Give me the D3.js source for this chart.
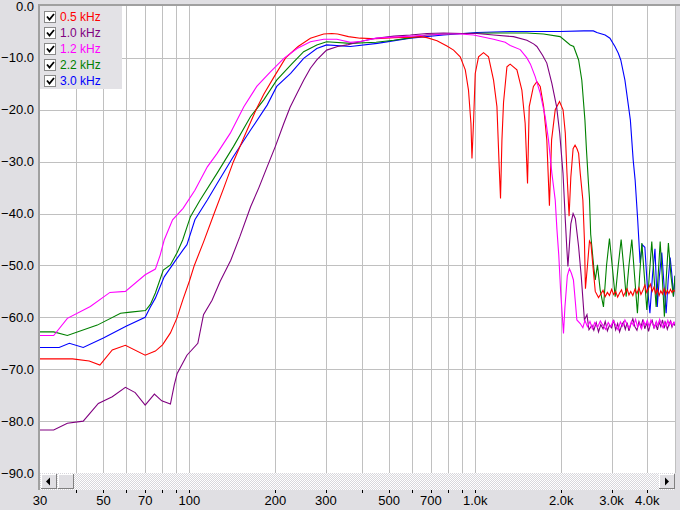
<!DOCTYPE html>
<html><head><meta charset="utf-8">
<script src="https://cdn.jsdelivr.net/npm/d3@7"></script>
<style>
html,body{margin:0;padding:0;background:#e0dfe3;overflow:hidden}
svg{display:block}
text{font-family:Arial,"Liberation Sans",sans-serif}
</style></head><body>
<svg id="c" width="680" height="510"></svg>
<script>
// ---------- data ----------
const seriesNames = ["0.5 kHz", "1.0 kHz", "1.2 kHz", "2.2 kHz", "3.0 kHz"];
const seriesColors = ["#ff0000", "#800080", "#ff00ff", "#008000", "#0000ff"];

const yTickValues = [0, -10, -20, -30, -40, -50, -60, -70, -80, -90];
const xGridValues = [30,40,50,60,70,80,90,100,200,300,400,500,600,700,800,900,1000,2000,3000,4000,5000];
const xTickLabelValues = [30, 50, 70, 100, 200, 300, 500, 700, 1000, 2000, 3000, 4000];
const xTickLabelTexts = ["30","50","70","100","200","300","500","700","1.0k","2.0k","3.0k","4.0k"];

const red05 = [[30,-68.0],[39,-68.0],[44.6,-68.4],[48.6,-69.2],[53.7,-66.3],[59.7,-65.4],[70,-67.3],[76,-66.5],[80.5,-65.3],[85.8,-63.0],[90.3,-60.2],[95,-56.5],[100,-53.0],[104,-50.0],[112,-45.5],[122,-40.0],[132,-35.0],[142.5,-30.0],[156,-25.0],[171,-20.0],[182,-17.0],[197,-13.8],[217,-10.0],[240,-7.8],[265,-6.2],[295,-5.4],[315,-5.3],[330,-5.4],[360,-5.9],[396,-6.2],[450,-6.3],[520,-6.1],[600,-6.0],[642,-5.9],[678,-6.1],[735,-6.7],[796,-7.7],[840,-8.5],[886,-9.8],[923,-12.3],[947,-16.2],[966,-22.6],[974,-29.4],[987,-22.0],[1000,-13.0],[1027,-9.8],[1069,-9.0],[1113,-9.8],[1159,-14.3],[1191,-19.4],[1213,-31.0],[1226,-37.1],[1240,-25.8],[1256,-18.6],[1291,-11.7],[1325,-11.2],[1399,-12.3],[1456,-16.2],[1495,-22.6],[1524,-34.2],[1545,-19.4],[1598,-15.5],[1643,-14.6],[1688,-15.5],[1735,-19.4],[1780,-25.8],[1818,-38.5],[1850,-25.8],[1905,-20.0],[1972,-18.4],[2029,-20.0],[2066,-24.5],[2094,-32.2],[2130,-40.5],[2160,-33.0],[2200,-27.5],[2235,-26.8],[2270,-27.5],[2300,-28.4],[2330,-32.2],[2380,-37.4],[2410,-45.0],[2430,-54.5],[2470,-50.0],[2510,-45.3],[2540,-45.8],[2580,-50.0],[2630,-55.0],[2700,-56.2],[2750,-55.5],[2800,-54.8],[2850,-56.0],[2900,-55.2],[2950,-55.8],[3000,-54.6],[3050,-55.6],[3100,-55.0],[3150,-56.1],[3200,-55.3],[3250,-54.7],[3300,-55.9],[3350,-55.2],[3400,-54.5],[3450,-55.7],[3500,-55.0],[3560,-55.8],[3620,-54.6],[3680,-55.4],[3740,-54.3],[3800,-55.6],[3860,-54.8],[3920,-53.8],[3980,-55.2],[4040,-54.4],[4100,-53.6],[4160,-55.0],[4220,-54.2],[4280,-55.4],[4340,-54.6],[4400,-55.8],[4460,-54.9],[4520,-55.5],[4580,-54.5],[4640,-55.6],[4700,-54.8],[4760,-55.4],[4820,-54.6],[4880,-55.2],[4940,-54.8],[5000,-55.0]];

const purple10 = [[30,-81.7],[33.5,-81.7],[37.4,-80.4],[42.5,-80.0],[48,-76.6],[53.7,-75.3],[59.7,-73.5],[64.6,-74.5],[70,-76.9],[75.4,-74.8],[80,-76.1],[85.8,-76.7],[88.5,-73.0],[90.6,-70.8],[98,-67.3],[107,-65.0],[112,-59.5],[120,-56.7],[128,-53.1],[139.5,-49.0],[150,-44.5],[163.7,-38.7],[175,-35.0],[187,-31.0],[200,-27.0],[214,-22.6],[225,-19.5],[238,-16.8],[251,-14.3],[265,-12.0],[279,-10.4],[302,-8.5],[330,-7.8],[356,-7.5],[400,-6.8],[450,-6.2],[520,-5.8],[593,-5.6],[678,-5.3],[775,-5.2],[900,-5.3],[1013,-5.3],[1159,-5.6],[1361,-5.9],[1516,-6.6],[1600,-7.3],[1643,-7.8],[1720,-9.5],[1780,-11.0],[1854,-14.9],[1926,-19.4],[1975,-24.5],[2028,-32.2],[2066,-41.2],[2090,-46.4],[2110,-50.2],[2130,-47.0],[2160,-42.0],[2200,-40.0],[2240,-41.0],[2300,-46.4],[2350,-52.2],[2410,-60.5],[2460,-59.5],[2500,-62.4],[2560,-61.5],[2600,-62.5],[2650,-61.0],[2700,-62.8],[2750,-61.4],[2800,-62.2],[2850,-60.8],[2900,-62.6],[2950,-61.5],[3000,-62.0],[3050,-60.5],[3100,-62.4],[3150,-61.2],[3200,-62.8],[3250,-61.6],[3300,-60.9],[3350,-62.3],[3400,-61.0],[3450,-62.6],[3500,-61.4],[3560,-60.3],[3620,-61.8],[3680,-62.5],[3740,-60.8],[3800,-61.9],[3860,-60.4],[3920,-62.2],[3980,-61.0],[4040,-62.7],[4100,-61.3],[4160,-60.6],[4220,-62.0],[4280,-61.2],[4340,-62.4],[4400,-60.9],[4460,-61.8],[4520,-60.5],[4580,-62.1],[4640,-61.0],[4700,-62.3],[4760,-61.4],[4820,-60.7],[4880,-61.9],[4940,-61.1],[5000,-61.6]];

const magenta12 = [[30,-63.5],[33.5,-63.5],[37.4,-60.2],[45,-57.9],[52.7,-55.2],[59.7,-55.0],[70,-51.8],[76,-50.7],[79,-48.0],[81.6,-45.1],[87.3,-41.2],[95,-39.0],[104.5,-35.5],[115.5,-31.0],[125,-28.4],[139,-24.5],[155,-19.4],[172,-15.5],[192,-12.7],[214,-10.1],[238,-8.2],[265,-6.9],[295,-6.4],[328,-6.4],[366,-7.0],[400,-6.8],[450,-6.2],[518,-6.0],[600,-5.8],[678,-5.6],[800,-5.4],[886,-5.4],[987,-5.6],[1159,-6.4],[1273,-7.0],[1326,-7.6],[1437,-8.4],[1516,-10.0],[1560,-11.2],[1621,-13.6],[1688,-16.8],[1757,-21.3],[1804,-25.8],[1854,-32.2],[1905,-37.4],[1931,-43.0],[1960,-48.0],[1990,-55.0],[2036,-63.1],[2060,-58.0],[2100,-52.0],[2135,-50.6],[2170,-51.5],[2206,-52.8],[2240,-57.0],[2268,-60.5],[2330,-61.2],[2380,-62.0],[2420,-60.6],[2470,-61.8],[2520,-60.8],[2570,-62.2],[2620,-61.0],[2680,-61.9],[2740,-60.7],[2800,-61.6],[2860,-62.3],[2920,-61.0],[2980,-61.8],[3040,-60.6],[3100,-61.5],[3160,-62.4],[3220,-60.9],[3280,-61.7],[3340,-60.5],[3400,-61.4],[3460,-62.1],[3520,-60.8],[3580,-61.6],[3640,-60.4],[3700,-61.9],[3760,-61.1],[3820,-62.2],[3880,-60.7],[3940,-61.5],[4000,-60.6],[4060,-61.8],[4120,-60.5],[4180,-61.4],[4240,-62.0],[4300,-60.8],[4360,-61.6],[4420,-60.4],[4480,-61.3],[4540,-62.0],[4600,-60.9],[4660,-61.7],[4720,-60.6],[4780,-61.5],[4840,-60.8],[4900,-61.6],[4960,-60.9],[5000,-61.3]];

const green22 = [[30,-62.8],[33.5,-62.8],[37.4,-63.5],[47.6,-61.5],[57.4,-59.2],[62.2,-59.0],[70.2,-58.7],[73,-57.5],[76,-55.3],[81,-50.9],[85.8,-49.9],[90.6,-47.5],[94.7,-45.1],[100.8,-40.6],[109,-37.4],[125,-32.2],[142.5,-27.1],[163.7,-21.3],[182,-18.1],[202,-14.3],[226,-11.4],[251,-8.8],[279,-7.5],[302,-6.9],[366,-7.2],[450,-7.0],[518,-6.6],[600,-6.1],[678,-5.6],[800,-5.4],[886,-5.3],[1159,-5.2],[1516,-5.2],[1734,-5.4],[1982,-5.9],[2150,-7.5],[2210,-7.8],[2300,-10.4],[2360,-14.3],[2420,-22.0],[2450,-27.7],[2490,-34.2],[2510,-37.0],[2535,-44.0],[2559,-46.4],[2600,-50.5],[2630,-52.8],[2677,-49.9],[2736,-54.7],[2810,-58.0],[2880,-50.0],[2949,-44.8],[3020,-50.5],[3088,-56.0],[3165,-50.0],[3240,-45.0],[3310,-50.5],[3373,-56.0],[3450,-50.0],[3531,-45.0],[3610,-52.0],[3694,-59.2],[3760,-52.0],[3828,-45.7],[3905,-52.0],[3985,-58.6],[4065,-52.0],[4147,-45.4],[4220,-52.0],[4295,-58.0],[4365,-52.0],[4437,-45.4],[4510,-52.0],[4590,-59.9],[4665,-52.0],[4741,-45.7],[4840,-52.0],[4937,-56.0],[5000,-52.0]];

const blue30 = [[30,-65.8],[35,-65.8],[38,-65.0],[42.5,-65.8],[50,-64.0],[60,-61.7],[70,-60.0],[73,-58.0],[76,-56.3],[81.6,-52.2],[90.6,-48.6],[95,-47.0],[98,-46.0],[104.5,-41.2],[115.5,-37.4],[125,-34.2],[142.5,-29.0],[163.7,-23.9],[187,-19.1],[202,-15.5],[226,-13.0],[251,-10.1],[279,-8.2],[302,-7.5],[366,-7.8],[454,-7.2],[593,-6.2],[775,-5.6],[1013,-5.1],[1326,-4.9],[1982,-4.9],[2400,-4.8],[2590,-4.8],[2664,-5.1],[2848,-5.6],[2960,-6.2],[3082,-7.8],[3167,-9.1],[3230,-10.4],[3340,-14.3],[3490,-22.0],[3570,-29.7],[3626,-33.5],[3700,-41.0],[3775,-49.5],[3840,-46.0],[3922,-46.5],[4000,-54.0],[4085,-59.2],[4170,-52.0],[4255,-46.8],[4300,-53.0],[4335,-58.0],[4410,-52.0],[4495,-47.5],[4580,-54.0],[4655,-59.2],[4730,-53.0],[4810,-48.5],[4880,-52.0],[4940,-56.0],[5000,-52.0]];

const seriesData = [red05, purple10, magenta12, green22, blue30];

// ---------- layout ----------
const svg = d3.select("#c");
const L = 40, R = 675, T = 6, B = 473;
const x = d3.scaleLog().domain([30, 5000]).range([L, R]);
const y = d3.scaleLinear().domain([-90, 0]).range([B, T]);

// scrollbar checker pattern
const defs = svg.append("defs");
const pat = defs.append("pattern").attr("id","chk").attr("width",2).attr("height",2).attr("patternUnits","userSpaceOnUse");
pat.append("rect").attr("width",2).attr("height",2).attr("fill","#ffffff");
pat.append("rect").attr("x",1).attr("y",0).attr("width",1).attr("height",1).attr("fill","#d8d7dc");
pat.append("rect").attr("x",0).attr("y",1).attr("width",1).attr("height",1).attr("fill","#d8d7dc");
defs.append("clipPath").attr("id","plotclip").append("rect").attr("x",L).attr("y",T).attr("width",R-L).attr("height",B-T);

// plot background
svg.append("rect").attr("x",L).attr("y",T).attr("width",R-L).attr("height",B-T).attr("fill","#ffffff");

// grid
const grid = svg.append("g").attr("shape-rendering","crispEdges");
grid.selectAll("line.gx").data(xGridValues.filter(v=>v>30)).join("line")
  .attr("x1",d=>Math.round(x(d))+0.5).attr("x2",d=>Math.round(x(d))+0.5)
  .attr("y1",T).attr("y2",B).attr("stroke","#c0c0c0").attr("stroke-width",1);
grid.selectAll("line.gy").data(yTickValues.filter(v=>v<0 && v>-90)).join("line")
  .attr("x1",L).attr("x2",R)
  .attr("y1",d=>Math.round(y(d))+0.5).attr("y2",d=>Math.round(y(d))+0.5)
  .attr("stroke","#c0c0c0").attr("stroke-width",1);

// series
const line = d3.line().x(d=>x(d[0])).y(d=>y(d[1])).curve(d3.curveLinear);
const lines = svg.append("g").attr("clip-path","url(#plotclip)");
const drawOrder = [4,3,0,1,2];
drawOrder.forEach(i=>{
  lines.append("path").datum(seriesData[i]).attr("d",line)
    .attr("fill","none").attr("stroke",seriesColors[i]).attr("stroke-width",1.1)
    .attr("stroke-linejoin","miter");
});

// frame (sunken border)
svg.append("rect").attr("x",38).attr("y",4).attr("width",680-38).attr("height",2).attr("fill","#a0a0a0");
svg.append("rect").attr("x",38).attr("y",4).attr("width",2).attr("height",490-4).attr("fill","#a0a0a0");

// y axis labels
svg.append("g").selectAll("text").data(yTickValues).join("text")
  .attr("x",34).attr("y",d=>y(d)+4.5).attr("text-anchor","end")
  .attr("font-size",13).attr("fill","#000")
  .text(d=>d3.format(".1f")(d));

// scrollbar
const sb = svg.append("g").attr("shape-rendering","crispEdges");
sb.append("rect").attr("x",L).attr("y",B).attr("width",R-L).attr("height",17).attr("fill","url(#chk)");
function button(x0, w){
  const g = sb.append("g");
  g.append("rect").attr("x",x0).attr("y",B+1).attr("width",w).attr("height",15).attr("fill","#e0dfe3");
  g.append("line").attr("x1",x0+0.5).attr("x2",x0+0.5).attr("y1",B+1).attr("y2",B+16).attr("stroke","#ffffff");
  g.append("line").attr("x1",x0).attr("x2",x0+w).attr("y1",B+1.5).attr("y2",B+1.5).attr("stroke","#ffffff");
  g.append("line").attr("x1",x0+w-0.5).attr("x2",x0+w-0.5).attr("y1",B+1).attr("y2",B+16).attr("stroke","#808080");
  g.append("line").attr("x1",x0).attr("x2",x0+w).attr("y1",B+15.5).attr("y2",B+15.5).attr("stroke","#808080");
  return g;
}
button(41,16);
button(58,16);
button(659,16);
svg.append("path").attr("d",`M46,${B+8.5} L50,${B+4.5} L50,${B+12.5} Z`).attr("fill","#000");
svg.append("path").attr("d",`M669,${B+8.5} L665,${B+4.5} L665,${B+12.5} Z`).attr("fill","#000");

// x ticks
svg.append("g").attr("shape-rendering","crispEdges").selectAll("line").data(xGridValues.filter(v=>v>30 && v<5000)).join("line")
  .attr("x1",d=>Math.round(x(d))+0.5).attr("x2",d=>Math.round(x(d))+0.5)
  .attr("y1",490).attr("y2",493).attr("stroke","#000");

// x labels
svg.append("g").selectAll("text").data(xTickLabelValues).join("text")
  .attr("x",d=>x(d)).attr("y",505).attr("text-anchor","middle")
  .attr("font-size",13).attr("fill","#000")
  .text((d,i)=>xTickLabelTexts[i]);

// axis title (cut off by window edge)
svg.append("text").attr("x",338).attr("y",519).attr("font-size",13).attr("fill","#000").text("Frequency (Hz)");

// legend
const lg = svg.append("g");
lg.append("rect").attr("x",40).attr("y",6).attr("width",82).attr("height",83).attr("fill","#e3e2e6");
seriesNames.forEach((n,i)=>{
  const cy = 17 + i*16;
  lg.append("rect").attr("x",44.5).attr("y",cy-5.5).attr("width",11).attr("height",11)
    .attr("fill","#ffffff").attr("stroke","#8a8a8a").attr("stroke-width",1).attr("shape-rendering","crispEdges");
  lg.append("path").attr("d",`M47,${cy-0.5} L49.5,${cy+2.5} L54,${cy-3}`)
    .attr("fill","none").attr("stroke","#000").attr("stroke-width",1.8);
  lg.append("text").attr("x",60).attr("y",cy+4).attr("font-size",12).attr("fill",seriesColors[i]).text(n);
});
</script>
</body></html>
